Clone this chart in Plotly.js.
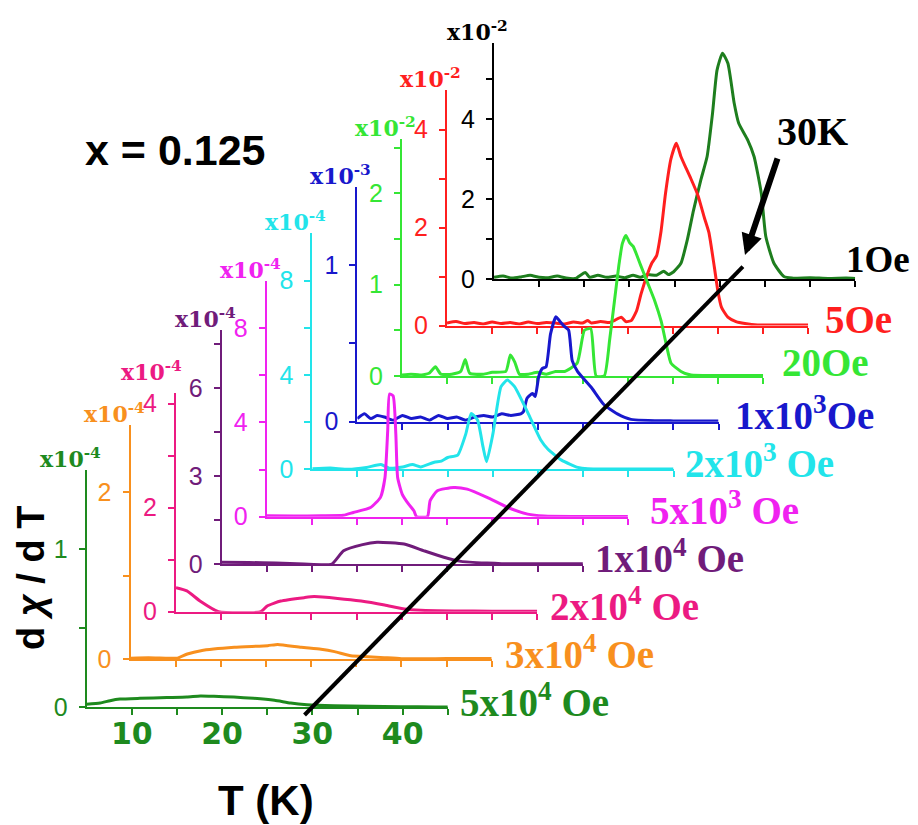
<!DOCTYPE html>
<html><head><meta charset="utf-8">
<script src="https://cdn.plot.ly/plotly-3.0.1.min.js"></script>
<style>html,body{margin:0;padding:0;background:#fff}#chart{width:918px;height:825px}</style>
</head><body><div id="chart"></div>
<script>
// ---------------- data ----------------
// order: top panel (1 Oe) ... bottom panel (5x10^4 Oe)
const fieldLabels = ['1Oe','5Oe','20Oe','1x10<sup>3</sup>Oe','2x10<sup>3</sup> Oe','5x10<sup>3</sup> Oe',
  '1x10<sup>4</sup> Oe','2x10<sup>4</sup> Oe','3x10<sup>4</sup> Oe','5x10<sup>4</sup> Oe'];
const scaleLabels = ['x10<sup>-2</sup>','x10<sup>-2</sup>','x10<sup>-2</sup>','x10<sup>-3</sup>','x10<sup>-4</sup>',
  'x10<sup>-4</sup>','x10<sup>-4</sup>','x10<sup>-4</sup>','x10<sup>-4</sup>','x10<sup>-4</sup>'];

const T_1Oe = [5,6,7,8,9,10,11,12,13,14,15.1,15.6,16.5,17.5,18.5,19.5,20.4,21.2,22,23,23.8,24.3,24.9,25.7,26.4,27.1,27.9,28.6,29.2,29.7,30.3,30.9,31.6,32.1,33.1,33.8,34.6,35.1,36,37.1,38,40,42,44,45];
const v_1Oe = [0.05,0.08,0.03,0.06,0.1,0.05,0.04,0.08,0.03,0.02,0.17,0.05,0.1,0.05,0.08,0.04,0.1,0.05,0.12,0.1,0.2,0.12,0.19,0.4,0.98,1.73,2.48,3.07,4.15,5.23,5.65,5.4,4.4,3.9,3.48,3.07,2.15,1.07,0.4,0.07,0.03,0.04,0.02,0.03,0.02];

const T_5Oe = [5,6,7,8,9,10,11,12,13,14,15,16,17,18,19,20,20.6,21,22,23,23.5,24.3,24.8,25.4,26,26.5,27.2,27.7,28.2,28.7,29.2,29.8,30.4,30.9,31.5,32,32.8,33.5,34,34.6,35,35.4,36.1,37,38,39.4,42,45];
const v_5Oe = [0.05,0.08,0.04,0.06,0.03,0.07,0.04,0.06,0.03,0.07,0.04,0.06,0.05,0.03,0.07,0.05,0.1,0.05,0.08,0.06,0.1,0.17,0.08,0.1,0.3,0.65,1.05,1.28,1.42,1.92,2.7,3.4,3.72,3.45,3.2,3.0,2.65,2.2,1.9,1.2,0.7,0.37,0.17,0.08,0.04,0.01,0.01,0.01];

const T_20Oe = [5,6,7,8,8.7,9.3,10.5,11.5,12,12.5,14,15,16.5,17,17.5,18,19,20,21,22,23,24.4,25.2,25.9,26.5,27.4,28,28.5,29,29.4,29.8,30.2,30.6,31.4,32.2,33,33.7,34.3,34.8,35.9,37,40,45];
const v_20Oe = [0.01,0.02,0.01,0.03,0.1,0.02,0.02,0.05,0.18,0.03,0.02,0.04,0.05,0.23,0.15,0.02,0.02,0.04,0.02,0.05,0.05,0.14,0.5,0.52,0,0,0.4,0.8,1.2,1.45,1.54,1.46,1.42,1.22,1.02,0.82,0.6,0.33,0.14,0.05,0.01,0.005,0.005];

const T_1e3Oe = [5,5.8,6.5,7.2,8,9,10,11,12,13,14,15,16,17,18,19,20,21,22,23.1,23.4,23.8,24.4,24.7,25.1,25.5,25.9,26.4,27,27.3,27.9,28.4,28.8,29.4,30.9,32.3,33.8,35.3,40,45];
const v_1e3Oe = [0.02,0.05,0.02,0.04,0.03,0.01,0.04,0.02,0.03,0.01,0.04,0.02,0.03,0.01,0.03,0.04,0.03,0.05,0.04,0.05,0.064,0.15,0.18,0.16,0.29,0.34,0.35,0.56,0.67,0.65,0.61,0.585,0.39,0.32,0.22,0.11,0.05,0.015,0.005,0.005];

const T_2e3Oe = [5,7,9,11,12.6,13.5,15,16.1,17,18.5,19.3,20,21.1,22,22.6,23.3,23.9,24.3,25,25.9,26.6,27.4,28.9,30.3,31.1,32.6,34.4,35.5,40,45];
const v_2e3Oe = [0.02,0.05,0,0.08,0.2,0.05,0.1,0.2,0.1,0.3,0.35,0.5,0.6,1.5,2.37,2.09,0.96,0.32,1.5,3.5,3.78,3.5,2.37,1.24,0.85,0.39,0.08,0.02,0.01,0.01];

const T_5e3Oe = [5,8,11,13.5,14.6,16.5,17.6,18.1,18.4,18.6,19,19.3,19.5,20,20.7,21.3,21.6,22.8,23.1,23.9,25.7,27.2,29.4,31.7,33.9,35.7,40,45];
const v_5e3Oe = [0.04,0.03,0.04,0.06,0.18,0.39,0.82,1.66,3.64,5.2,5.12,3.5,1.66,0.96,0.54,0.25,0,0,0.68,1.1,1.24,1.17,0.82,0.39,0.11,0.03,0.01,0.01];

const T_1e4Oe = [5,8,11,14.1,17.2,18.5,20.6,22.2,25.2,27.4,29.6,31.5,34.4,36,40,45];
const v_1e4Oe = [0.06,0.05,0.035,0,0,0.45,0.66,0.74,0.68,0.45,0.23,0.09,0.03,0.01,0.005,0.005];

const T_2e4Oe = [5,6.2,7.7,9.7,14.4,15.1,16.6,19.2,20.3,22.9,25.5,28.1,30.3,32.1,35.8,40,45];
const v_2e4Oe = [0.46,0.4,0.2,0,0,0.11,0.205,0.27,0.29,0.256,0.205,0.128,0.05,0.026,0.013,0.01,0.01];

const T_3e4Oe = [5,7,9,10.2,11.3,12.8,16.5,20.2,21.3,23.9,26.1,27.6,29.4,31.3,33.1,35,40,45];
const v_3e4Oe = [0.01,0.015,0.01,0.01,0.06,0.1,0.14,0.16,0.175,0.14,0.116,0.088,0.04,0.028,0.016,0.004,0.005,0.005];

const T_5e4Oe = [5,6.5,7.6,8.7,10.9,13.9,16.1,17.6,19.1,21.3,23.5,25.8,27.6,29.4,32.4,36,39.8,43.6,45];
const v_5e4Oe = [0.017,0.025,0.04,0.05,0.055,0.06,0.063,0.07,0.068,0.063,0.055,0.042,0.025,0.015,0.008,0.004,0.002,0,0];

const seriesT = [T_1Oe,T_5Oe,T_20Oe,T_1e3Oe,T_2e3Oe,T_5e3Oe,T_1e4Oe,T_2e4Oe,T_3e4Oe,T_5e4Oe];
const seriesV = [v_1Oe,v_5Oe,v_20Oe,v_1e3Oe,v_2e3Oe,v_5e3Oe,v_1e4Oe,v_2e4Oe,v_3e4Oe,v_5e4Oe];

// y-axis ranges and tick labels (per panel)
const yMax = [5.9,4.8,2.6,1.5,10,10,8,4.2,2.8,1.5];
const yTickVals = [[0,1,2,3,4,5],[0,1,2,3,4],[0,0.5,1,1.5,2,2.5],[0,0.5,1],[0,2,4,6,8],[0,2,4,6,8],[0,1.5,3,4.5,6,7.5],[0,1,2,3,4],[0,1,2],[0,0.5,1]];
const yTickText = [['0','','2','','4',''],['0','','2','','4'],['0','','1','','2',''],['0','','1'],['0','','4','','8'],['0','','4','','8'],['0','','3','','6',''],['0','','2','','4'],['0','','2'],['0','','1']];
const xTickVals = [10,15,20,25,30,35,40,45];
const xTickText = ['10','','20','','30','','40',''];
const tRange = [5,45];
const crossT = [30,31.2];      // where the 30 K guide crosses bottom / top baselines
const annotText = 'x = 0.125';

// ---------------- geometry & style ----------------
const W = 918, H = 825;
const axisLeftPx = [494,447,402,357.3,312.3,266.7,221.7,176,130.5,86.6];
const basePx     = [279.3,325.5,376,421.7,469.3,516.7,564,611.7,659,707];
const unitPx     = [40,49,91.3,156.7,23.6,23.6,29.3,52,83.5,158];
const pxPerK = 9.03;
const axisColors = ['#000000','#FF1F1F','#35E635','#1818CC','#22E4EA','#F022F0','#701C7A','#EC1A82','#F8901E','#1E8A1E'];
const lineColors = ['#1E7E1E','#FF1F1F','#35E635','#1818CC','#22E4EA','#F022F0','#701C7A','#EC1A82','#F8901E','#1E8A1E'];
const labelLeftPx = [844,823,780,733,683,648,593,548,503,458];
const labelCyPx   = [259,319,363,413,461,508,556,604,652,700];
const labelSize   = [37,39,39,39,39,39,39,39,39,39];
const scaleDx     = [0,0,0,0,0,0,0,-8,0,0];
const scaleDy     = [0,0,0,0,0,0,0,-10,0,0];

const px = v => v / W;
const py = v => 1 - v / H;

const traces = [];
const layout = {
  width: W, height: H,
  margin: {l:0, r:0, t:0, b:0, pad:0},
  paper_bgcolor: '#fff', plot_bgcolor: 'rgba(0,0,0,0)',
  showlegend: false,
  annotations: [], shapes: []
};

for (let i = 0; i < 10; i++) {
  const s = i === 0 ? '' : String(i + 1);
  const c = axisColors[i];
  const x0 = axisLeftPx[i], x1 = x0 + (tRange[1] - tRange[0]) * pxPerK;
  const yb = basePx[i], yt = yb - yMax[i] * unitPx[i];
  traces.push({
    x: seriesT[i], y: seriesV[i], xaxis: 'x' + s, yaxis: 'y' + s,
    type: 'scatter', mode: 'lines',
    line: {color: lineColors[i], width: 3, shape: 'spline', smoothing: 0.5},
    hoverinfo: 'skip'
  });
  const bottom = i === 9;
  layout['xaxis' + s] = {
    domain: [px(x0), px(x1)], range: tRange, anchor: 'y' + s,
    showline: true, linecolor: c, linewidth: 2,
    ticks: 'outside', ticklen: 6, tickwidth: 2, tickcolor: c,
    tickmode: 'array', tickvals: xTickVals, ticktext: bottom ? xTickText : xTickVals.map(() => ''),
    showticklabels: bottom, ticklabelstandoff: -7,
    tickfont: {family: 'DejaVu Sans', size: 30, color: c, weight: 'bold'},
    showgrid: false, zeroline: false, fixedrange: true
  };
  layout['yaxis' + s] = {
    domain: [py(yb), py(yt)], range: [0, yMax[i]], anchor: 'x' + s,
    showline: true, linecolor: c, linewidth: 2,
    ticks: 'outside', ticklen: 6, tickwidth: 2, tickcolor: c,
    tickmode: 'array', tickvals: yTickVals[i], ticktext: yTickText[i],
    ticklabelstandoff: 6,
    tickfont: {family: 'Liberation Sans', size: 25, color: c},
    showgrid: false, zeroline: false, fixedrange: true
  };
  // scale factor label above each y axis
  layout.annotations.push({
    xref: 'paper', yref: 'paper', x: px(x0 + 16 + scaleDx[i]), y: py(yt + 4 + scaleDy[i]),
    xanchor: 'right', yanchor: 'bottom', showarrow: false,
    text: scaleLabels[i],
    font: {family: 'DejaVu Serif', size: 22, color: c, weight: 'bold'}
  });
  // field label
  layout.annotations.push({
    xref: 'paper', yref: 'paper', x: px(labelLeftPx[i]), y: py(labelCyPx[i]),
    xanchor: 'left', yanchor: 'middle', showarrow: false,
    text: fieldLabels[i],
    font: {family: 'Liberation Serif', size: labelSize[i], color: c, weight: 'bold'}
  });
}

// 30 K guide line, through T=crossT on bottom and top baselines
const pB = [axisLeftPx[9] + (crossT[0] - tRange[0]) * pxPerK, basePx[9]];
const pT = [axisLeftPx[0] + (crossT[1] - tRange[0]) * pxPerK, basePx[0]];
const dx = pT[0] - pB[0], dy = pT[1] - pB[1];
const eB = 8 / Math.abs(dy), eT = 12.6 / Math.abs(dy);
layout.shapes.push({
  type: 'line', xref: 'paper', yref: 'paper', layer: 'above',
  x0: px(pB[0] - dx * eB), y0: py(pB[1] - dy * eB),
  x1: px(pT[0] + dx * eT), y1: py(pT[1] + dy * eT),
  line: {color: '#000', width: 4}
});

// arrow and 30K label
layout.annotations.push({
  xref: 'paper', yref: 'paper', x: px(745), y: py(255), ax: 33, ay: -98,
  axref: 'pixel', ayref: 'pixel', text: '', showarrow: true,
  arrowhead: 2, arrowsize: 0.7, arrowwidth: 6, arrowcolor: '#000'
});
layout.annotations.push({
  xref: 'paper', yref: 'paper', x: px(812), y: py(131), xanchor: 'center', yanchor: 'middle',
  showarrow: false, text: '30K',
  font: {family: 'Liberation Serif', size: 40, color: '#000', weight: 'bold'}
});
layout.annotations.push({
  xref: 'paper', yref: 'paper', x: px(175), y: py(150), xanchor: 'center', yanchor: 'middle',
  showarrow: false, text: annotText,
  font: {family: 'Liberation Sans', size: 43, color: '#000', weight: 'bold'}
});
layout.annotations.push({
  xref: 'paper', yref: 'paper', x: px(31), y: py(578), xanchor: 'center', yanchor: 'middle',
  showarrow: false, text: 'd <i>χ</i> / d T', textangle: -90,
  font: {family: 'Liberation Sans', size: 38, color: '#000', weight: 'bold'}
});
layout.annotations.push({
  xref: 'paper', yref: 'paper', x: px(266), y: py(800), xanchor: 'center', yanchor: 'middle',
  showarrow: false, text: 'T (K)',
  font: {family: 'Liberation Sans', size: 42, color: '#000', weight: 'bold'}
});

Plotly.newPlot('chart', traces, layout, {staticPlot: true, displayModeBar: false});
</script>
</body></html>
